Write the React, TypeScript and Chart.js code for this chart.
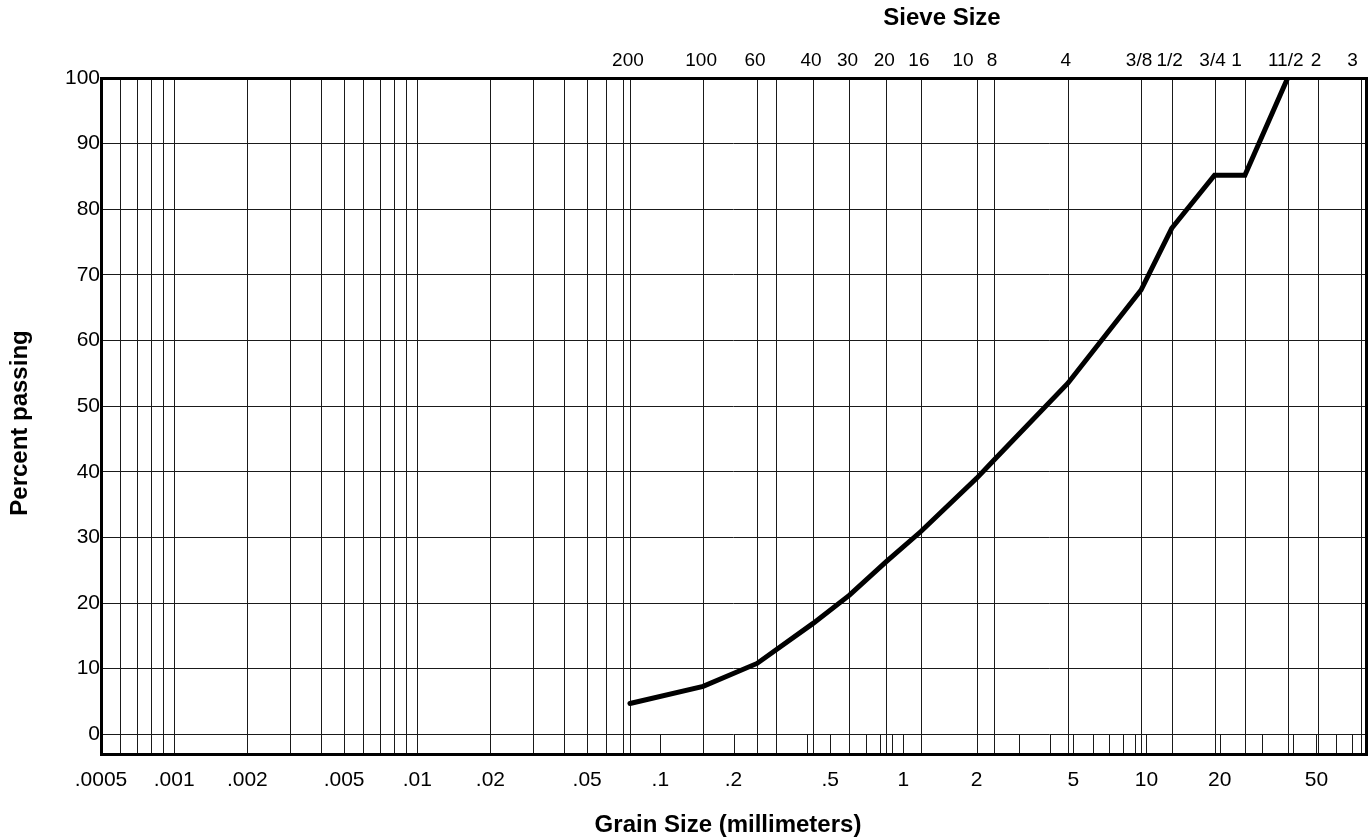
import React, { useEffect, useRef } from 'react';
import { Chart, registerables } from 'chart.js';

Chart.register(...registerables);

// ---- data ----
const grainSizes = [0.075, 0.15, 0.25, 0.425, 0.6, 0.85, 1.18, 2.0, 2.36, 4.75, 9.5, 12.7, 19.05, 25.4, 38.1];
const percentPassing = [4.7, 7.3, 10.8, 16.9, 21.2, 26.3, 30.9, 39.0, 41.8, 53.5, 67.7, 77.1, 85.2, 85.2, 100];

// sieve sizes (top axis)
const sieveOpenings = [0.075, 0.15, 0.25, 0.425, 0.6, 0.85, 1.18, 2.0, 2.36, 4.75, 9.5, 12.7, 19.05, 25.4, 38.1, 50.8, 76.2];
const sieveLabels = ['200', '100', '60', '40', '30', '20', '16', '10', '8', '4', '3/8', '1/2', '3/4', '1', '11/2', '2', '3'];
const unlabeledSieves = [0.3];

// grain size (bottom axis)
const grainTickValues = [0.0005, 0.001, 0.002, 0.005, 0.01, 0.02, 0.05, 0.1, 0.2, 0.5, 1, 2, 5, 10, 20, 50];
const grainTickLabels = ['.0005', '.001', '.002', '.005', '.01', '.02', '.05', '.1', '.2', '.5', '1', '2', '5', '10', '20', '50'];

// full-height fine grid lines and short lines in the strip under 0
const fineGridLines = [0.0006, 0.0007, 0.0008, 0.0009, 0.001, 0.002, 0.003, 0.004, 0.005, 0.006, 0.007, 0.008, 0.009, 0.01, 0.02, 0.03, 0.04, 0.05, 0.06, 0.07];
const stripGridLines = [0.1, 0.2, 0.3, 0.4, 0.5, 0.6, 0.7, 0.8, 0.9, 1, 2, 3, 4, 5, 6, 7, 8, 9, 10, 20, 30, 40, 50, 60, 70];

const percentTicks = [0, 10, 20, 30, 40, 50, 60, 70, 80, 90, 100];

const X_MIN = 0.0005;
const X_MAX = 80;
const Y_MIN = -3;
const Y_MAX = 100;

const FONT = "'Liberation Sans', Arial, Helvetica, sans-serif";

// labels that sit just left of their sieve line in the reference
const rightAlignedSieveLabels = new Set(['10', '1', '3']);

const gridPlugin = {
  id: 'gradationGrid',
  beforeDatasetsDraw(chart: any) {
    const { ctx, chartArea } = chart;
    const xs = chart.scales.x;
    const ys = chart.scales.y;
    const yZero = ys.getPixelForValue(0);
    ctx.save();
    ctx.strokeStyle = '#1a1a1a';
    ctx.lineWidth = 1;
    const vline = (v: number, top: number) => {
      const px = Math.round(xs.getPixelForValue(v)) + 0.5;
      ctx.beginPath();
      ctx.moveTo(px, top);
      ctx.lineTo(px, chartArea.bottom);
      ctx.stroke();
    };
    [...fineGridLines, ...sieveOpenings, ...unlabeledSieves].forEach((v) => vline(v, chartArea.top));
    stripGridLines.forEach((v) => vline(v, yZero));
    ctx.restore();
  },
  afterDraw(chart: any) {
    const { ctx, chartArea } = chart;
    const top = chart.scales.x2;
    ctx.save();
    ctx.strokeStyle = '#000';
    ctx.lineWidth = 3;
    ctx.strokeRect(chartArea.left + 0.5, chartArea.top + 0.5, chartArea.right - chartArea.left, chartArea.bottom - chartArea.top);

    // sieve-size labels along the top scale
    ctx.fillStyle = '#000';
    ctx.font = `19px ${FONT}`;
    ctx.textBaseline = 'middle';
    sieveOpenings.forEach((v, i) => {
      const label = sieveLabels[i];
      const px = top.getPixelForValue(v);
      if (rightAlignedSieveLabels.has(label)) {
        ctx.textAlign = 'right';
        ctx.fillText(label, px - 3, 61);
      } else {
        ctx.textAlign = 'center';
        ctx.fillText(label, px - 2, 61);
      }
    });

    ctx.font = `bold 24px ${FONT}`;
    ctx.textAlign = 'center';
    ctx.textBaseline = 'middle';
    ctx.fillText('Sieve Size', 942, 18.5);
    ctx.fillText('Grain Size (millimeters)', 728, 825);
    ctx.translate(20, 423);
    ctx.rotate(-Math.PI / 2);
    ctx.fillText('Percent passing', 0, 0);
    ctx.restore();
  },
};

export default function App() {
  const canvasRef = useRef<HTMLCanvasElement | null>(null);

  useEffect(() => {
    if (!canvasRef.current) return;
    const chart = new Chart(canvasRef.current, {
      type: 'line',
      data: {
        datasets: [
          {
            label: 'Percent passing',
            data: grainSizes.map((g, i) => ({ x: g, y: percentPassing[i] })),
            borderColor: '#000',
            borderWidth: 5,
            borderCapStyle: 'round',
            borderJoinStyle: 'miter',
            pointRadius: 0,
            tension: 0,
            fill: false,
          },
        ],
      },
      options: {
        responsive: false,
        animation: false,
        layout: { padding: { left: 0, right: 6, top: 0, bottom: 0 } },
        plugins: {
          legend: { display: false },
          tooltip: { enabled: false },
          title: { display: false },
        },
        scales: {
          x: {
            type: 'logarithmic',
            position: 'bottom',
            min: X_MIN,
            max: X_MAX,
            bounds: 'data',
            grid: { display: false, drawTicks: false },
            border: { display: false },
            afterBuildTicks: (scale: any) => {
              scale.ticks = grainTickValues.map((v) => ({ value: v }));
            },
            afterFit: (scale: any) => {
              scale.height = 86;
            },
            ticks: {
              autoSkip: false,
              maxRotation: 0,
              minRotation: 0,
              padding: 14,
              color: '#000',
              font: { family: FONT, size: 21 },
              callback: (_v: any, i: number) => grainTickLabels[i],
            },
          },
          x2: {
            type: 'logarithmic',
            position: 'top',
            min: X_MIN,
            max: X_MAX,
            bounds: 'data',
            grid: { display: false, drawTicks: false },
            border: { display: false },
            afterBuildTicks: (scale: any) => {
              scale.ticks = sieveOpenings.map((v) => ({ value: v }));
            },
            afterFit: (scale: any) => {
              scale.height = 78;
            },
            ticks: {
              display: false,
              autoSkip: false,
              maxRotation: 0,
              minRotation: 0,
            },
          },
          y: {
            type: 'linear',
            min: Y_MIN,
            max: Y_MAX,
            grid: { color: '#1a1a1a', lineWidth: 1, drawTicks: false },
            border: { display: false },
            afterBuildTicks: (scale: any) => {
              scale.ticks = percentTicks.map((v) => ({ value: v }));
            },
            afterFit: (scale: any) => {
              scale.width = 101;
            },
            ticks: {
              padding: 1,
              color: '#000',
              font: { family: FONT, size: 21 },
              callback: (v: any) => String(v),
            },
          },
        },
      } as any,
      plugins: [gridPlugin],
    });
    return () => chart.destroy();
  }, []);

  return (
    <div style={{ position: 'fixed', left: 0, top: 0, width: 1372, height: 840, background: '#fff' }}>
      <canvas ref={canvasRef} width={1372} height={840} style={{ display: 'block' }} />
    </div>
  );
}
